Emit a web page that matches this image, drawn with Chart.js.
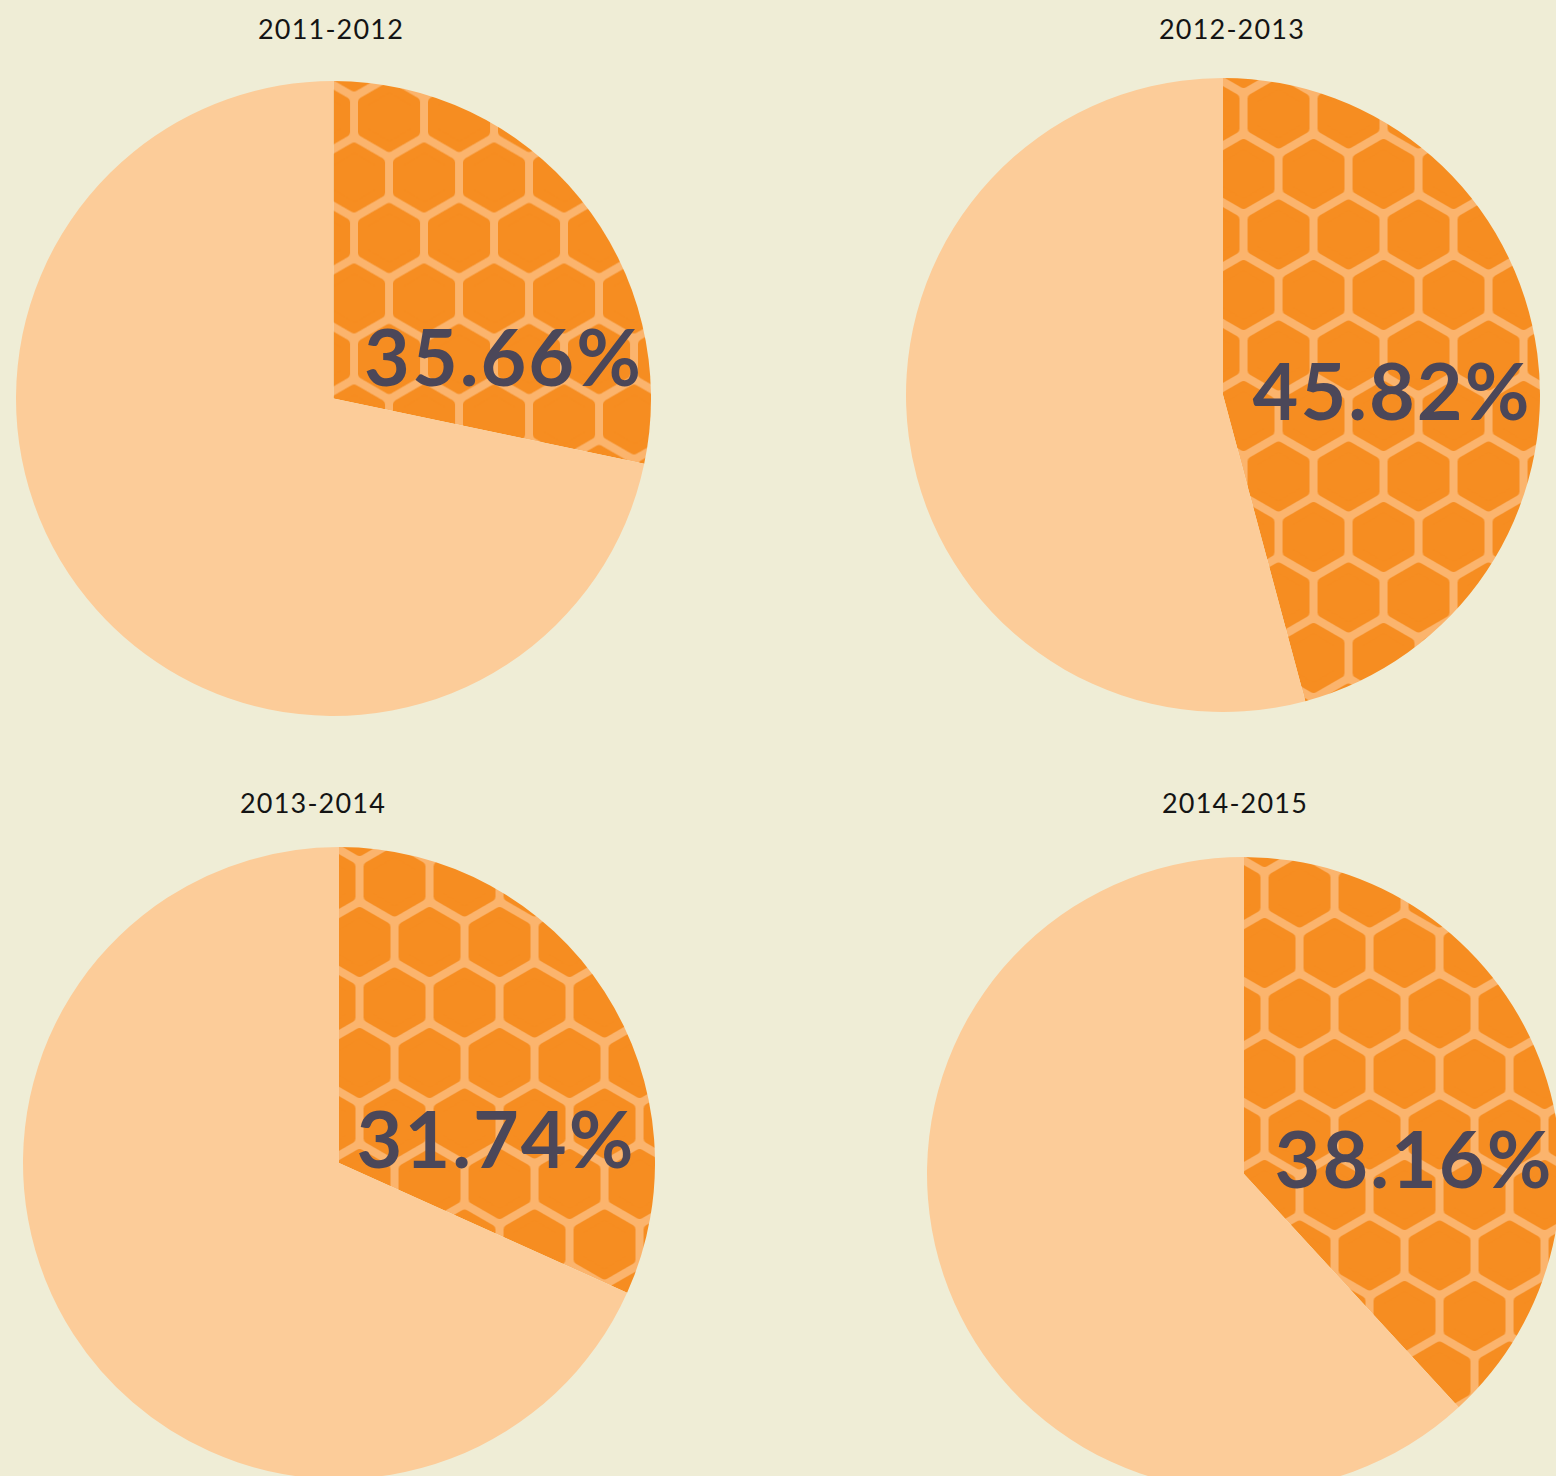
<!DOCTYPE html>
<html><head><meta charset="utf-8">
<script src="https://cdn.jsdelivr.net/npm/chart.js@4/dist/chart.umd.min.js"></script>
<style>
html,body{margin:0;padding:0;width:1556px;height:1476px;overflow:hidden;background:#efedd6;}
.t{position:absolute;font-family:Lato,"DejaVu Sans",sans-serif;font-size:27px;line-height:27px;color:#141414;letter-spacing:1.2px;white-space:nowrap;transform:translateX(-50%);}
.c{position:absolute;}
</style></head><body>
<script>
// ---- data ----
const periods = ['2011-2012', '2012-2013', '2013-2014', '2014-2015'];
const categories = ['Share', 'Rest'];
const sliceShares = [28.3, 45.82, 31.74, 38.16];      // drawn size of the honeycomb slice (%)
const sliceLabels = ['35.66%', '45.82%', '31.74%', '38.16%'];

// ---- layout (positions / sizes only) ----
const layout = [
  {left: 16,  top: 81,  size: 635, titleX: 331,  titleTop: 15,  lx: 170, ly: -13},
  {left: 906, top: 78,  size: 634, titleX: 1232, titleTop: 15,  lx: 169, ly: 25},
  {left: 23,  top: 847, size: 632, titleX: 313,  titleTop: 789, lx: 157, ly: 5},
  {left: 927, top: 857, size: 634, titleX: 1235, titleTop: 789, lx: 170, ly: 14}
];
const HEX_OFF = {x: 90.5, y: -221}; // hex centre relative to pie centre

const COLORS = {peach: '#fccc99', orange: '#f68d21', line: '#fbb46d', label: '#4b4759'};

function makeHoneycomb(ox, oy) {
  const w = 70, rowH = 60.5, th = 121;
  const tile = document.createElement('canvas');
  tile.width = w; tile.height = th;
  const c = tile.getContext('2d');
  c.fillStyle = COLORS.line;
  c.fillRect(0, 0, w, th);
  const k = 5, apo = 35 - 4 - k, R = apo / Math.cos(Math.PI / 6);
  c.fillStyle = COLORS.orange; c.strokeStyle = COLORS.orange;
  c.lineWidth = 2 * k; c.lineJoin = 'round';
  for (let j = -1; j <= 3; j++) {
    for (let i = -1; i <= 2; i++) {
      const cx = i * w + ((j & 1) ? w / 2 : 0), cy = j * rowH;
      c.beginPath();
      for (let v = 0; v < 6; v++) {
        const a = -Math.PI / 2 + v * Math.PI / 3;
        const px = cx + R * Math.cos(a), py = cy + R * Math.sin(a);
        v ? c.lineTo(px, py) : c.moveTo(px, py);
      }
      c.closePath(); c.fill(); c.stroke();
    }
  }
  const p = c.createPattern(tile, 'repeat');
  p.setTransform(new DOMMatrix([1, 0, 0, 1, ((ox % w) + w) % w, ((oy % th) + th) % th]));
  return p;
}

const labelPlugin = {
  id: 'sliceLabel',
  afterDatasetsDraw(chart, args, opts) {
    const arc = chart.getDatasetMeta(0).data[0];
    const ctx = chart.ctx;
    ctx.save();
    ctx.font = 'bold 79px Lato, "DejaVu Sans", sans-serif';
    if ('letterSpacing' in ctx) ctx.letterSpacing = '2px';
    ctx.fillStyle = COLORS.label;
    ctx.textAlign = 'center';
    ctx.textBaseline = 'alphabetic';
    ctx.fillText(opts.text, arc.x + opts.dx, arc.y + opts.dy);
    ctx.restore();
  }
};

periods.forEach((period, idx) => {
  const L = layout[idx];
  const t = document.createElement('div');
  t.className = 't'; t.textContent = period;
  t.style.left = L.titleX + 'px'; t.style.top = L.titleTop + 'px';
  document.body.appendChild(t);

  const wrap = document.createElement('div');
  wrap.className = 'c';
  wrap.style.left = L.left + 'px'; wrap.style.top = L.top + 'px';
  wrap.style.width = L.size + 'px'; wrap.style.height = L.size + 'px';
  const cv = document.createElement('canvas');
  cv.width = L.size; cv.height = L.size;
  wrap.appendChild(cv);
  document.body.appendChild(wrap);

  const r = L.size / 2;
  const pattern = makeHoneycomb(r + HEX_OFF.x, r + HEX_OFF.y);

  new Chart(cv, {
    type: 'pie',
    data: {
      labels: categories,
      datasets: [{
        data: [sliceShares[idx], 100 - sliceShares[idx]],
        backgroundColor: [pattern, COLORS.peach],
        borderWidth: 0,
        hoverOffset: 0
      }]
    },
    options: {
      responsive: false,
      animation: false,
      events: [],
      layout: {padding: 0},
      plugins: {
        legend: {display: false},
        tooltip: {enabled: false},
        title: {display: false},
        sliceLabel: {text: sliceLabels[idx], dx: L.lx, dy: L.ly}
      }
    },
    plugins: [labelPlugin]
  });
});
</script>
</body></html>
